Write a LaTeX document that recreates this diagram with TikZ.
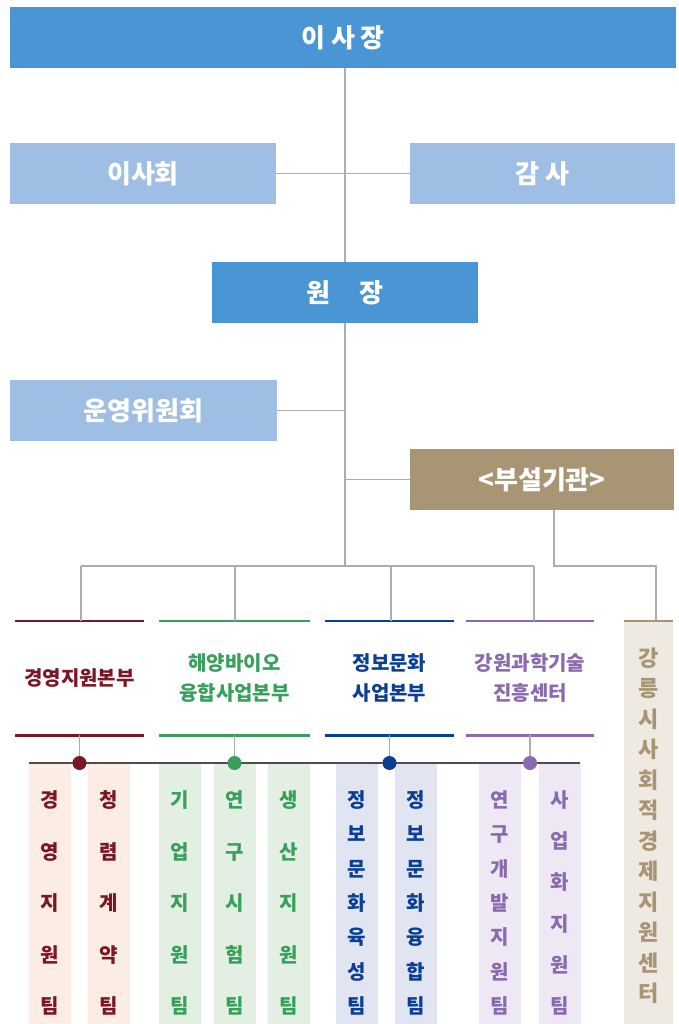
\documentclass[tikz,border=0pt]{standalone}
\usepackage{fontspec}
\setmainfont{Noto Sans CJK KR}
\definecolor{topblue}{HTML}{4A95D3}
\definecolor{lightblue}{HTML}{9EBEE4}
\definecolor{tan}{HTML}{A89574}
\definecolor{maroon}{HTML}{7A1626}
\definecolor{grn}{HTML}{38A05A}
\definecolor{navy}{HTML}{0B3F96}
\definecolor{purp}{HTML}{8B69AF}
\definecolor{tanbg}{HTML}{EEE9E1}
\definecolor{pinkbg}{HTML}{FBECE4}
\definecolor{greenbg}{HTML}{E4EFE4}
\definecolor{bluebg}{HTML}{E1E5F1}
\definecolor{purplebg}{HTML}{EEE8F4}
\definecolor{conn}{HTML}{ADADAD}
\definecolor{dotline}{HTML}{4D4D4D}
\tikzset{
  box/.style={rectangle, inner sep=0pt, minimum height=61pt, text=white,
    font=\bfseries\fontsize{26}{30}\selectfont},
  conline/.style={draw=conn, line width=1.2pt},
  divbox/.style={rectangle, inner sep=0pt, minimum height=114pt, align=center,
    font=\bfseries\fontsize{20}{30}\selectfont},
  team/.style={rectangle, inner sep=0pt, minimum width=42pt, minimum height=261pt},
  teamtext/.style={inner sep=0pt, align=center},
  divline/.style={line width=2.6pt},
  dotstyle/.style={circle, inner sep=0pt, minimum size=14pt}
}
\newcommand{\tfont}[1]{\bfseries\fontsize{20}{#1}\selectfont}
\begin{document}
\begin{tikzpicture}[x=1pt,y=-1pt]
\useasboundingbox[fill=white] (0,0) rectangle (679,1024);

% top part
\node[box, fill=topblue, minimum width=666pt] (chair) at (343,37.5) {이 사 장};
\node[box, fill=lightblue, minimum width=266pt] (board) at (143,173.5) {이사회};
\node[box, fill=lightblue, minimum width=265pt] (audit) at (542.5,173.5) {감 사};
\node[box, fill=topblue, minimum width=266pt] (pres) at (345,292.5) {원\hspace{1.1em}장};
\node[box, fill=lightblue, minimum width=267pt] (comm) at (143.5,410.5) {운영위원회};
\node[box, fill=tan, minimum width=264pt] (affil) at (542,479.5) {<부설기관>};

\coordinate (busL) at (81,566);
\coordinate (busR) at (534,566);
\coordinate (affilTurn) at (554,566);

\draw[conline] (chair.south -| pres.north) -- (pres.north);
\draw[conline] (board.east) -- (audit.west);
\draw[conline] (pres.south) -- (pres.south |- busL);
\draw[conline] (comm.east) -- (comm.east -| pres.south);
\draw[conline] (affil.west) -- (affil.west -| pres.south);
\draw[conline] (busL) -- (busR);

% divisions
\node[divbox, minimum width=129pt, text=maroon] (d1) at (79.5,678) {경영지원본부};
\node[divbox, minimum width=151pt, text=grn] (d2) at (234.5,678) {해양바이오\\융합사업본부};
\node[divbox, minimum width=129pt, text=navy] (d3) at (389.5,678) {정보문화\\사업본부};
\node[divbox, minimum width=128pt, text=purp] (d4) at (530,678) {강원과학기술\\진흥센터};
\node[rectangle, inner sep=0pt, minimum width=49pt, minimum height=403pt, fill=tanbg] (gn) at (648.5,822.5) {};
\node[teamtext, text=tan, font=\bfseries\fontsize{22}{30.5}\selectfont] (gnt) at (648.5,826) {강\\릉\\시\\사\\회\\적\\경\\제\\지\\원\\센\\터};

\foreach \d/\c in {d1/maroon,d2/grn,d3/navy,d4/purp}{
  \draw[divline, draw=\c] (\d.north west) -- (\d.north east);
  \draw[divline, draw=\c] (\d.south west) -- (\d.south east);
}
\draw[divline, draw=tan] (gn.north west) -- (gn.north east);

\draw[conline] (busL) -- (d1.north -| busL);
\draw[conline] (235,566) -- (d2.north -| 235,0);
\draw[conline] (391,566) -- (d3.north -| 391,0);
\draw[conline] (busR) -- (d4.north -| busR);
\draw[conline] (affil.south -| affilTurn) -- (affilTurn) -- (affilTurn -| 656,0) -- (gn.north -| 656,0);

% team boxes
\node[team, fill=pinkbg] (t1) at (50,893.5) {};
\node[team, fill=pinkbg] (t2) at (109,893.5) {};
\node[team, fill=greenbg] (g1) at (180,893.5) {};
\node[team, fill=greenbg] (g2) at (235,893.5) {};
\node[team, fill=greenbg] (g3) at (289,893.5) {};
\node[team, fill=bluebg] (b1) at (357,893.5) {};
\node[team, fill=bluebg] (b2) at (416,893.5) {};
\node[team, fill=purplebg] (p1) at (500,893.5) {};
\node[team, fill=purplebg] (p2) at (560,893.5) {};

\node[teamtext, text=maroon, font=\tfont{51.5}] (t1t) at (50,903) {경\\영\\지\\원\\팀};
\node[teamtext, text=maroon, font=\tfont{51.5}] (t2t) at (109,903) {청\\렴\\계\\약\\팀};
\node[teamtext, text=grn, font=\tfont{51.5}] (g1t) at (180,903) {기\\업\\지\\원\\팀};
\node[teamtext, text=grn, font=\tfont{51.5}] (g2t) at (235,903) {연\\구\\시\\험\\팀};
\node[teamtext, text=grn, font=\tfont{51.5}] (g3t) at (289,903) {생\\산\\지\\원\\팀};
\node[teamtext, text=navy, font=\tfont{34.33}] (b1t) at (357,903) {정\\보\\문\\화\\육\\성\\팀};
\node[teamtext, text=navy, font=\tfont{34.33}] (b2t) at (416,903) {정\\보\\문\\화\\융\\합\\팀};
\node[teamtext, text=purp, font=\tfont{34.33}] (p1t) at (500,903) {연\\구\\개\\발\\지\\원\\팀};
\node[teamtext, text=purp, font=\tfont{41.2}] (p2t) at (560,903) {사\\업\\화\\지\\원\\팀};

% dot line
\coordinate (dlL) at (29,763);
\coordinate (dlR) at (580,763);
\draw[conline] (d1.south) -- (d1.south |- dlL);
\draw[conline] (d2.south) -- (d2.south |- dlL);
\draw[conline] (d3.south) -- (d3.south |- dlL);
\draw[conline] (d4.south) -- (d4.south |- dlL);
\draw[draw=dotline, line width=1.6pt] (dlL) -- (dlR);
\node[dotstyle, fill=maroon] (dot1) at (d1.south |- dlL) {};
\node[dotstyle, fill=grn] (dot2) at (d2.south |- dlL) {};
\node[dotstyle, fill=navy] (dot3) at (d3.south |- dlL) {};
\node[dotstyle, fill=purp] (dot4) at (d4.south |- dlL) {};
\end{tikzpicture}
\end{document}
